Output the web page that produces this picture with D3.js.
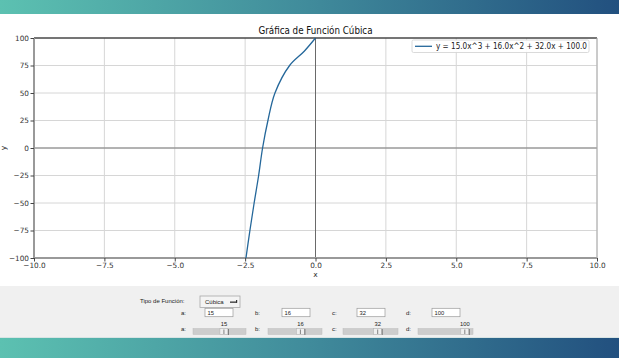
<!DOCTYPE html>
<html>
<head>
<meta charset="utf-8">
<script src="https://cdn.jsdelivr.net/npm/d3@7"></script>
<style>
  html, body { margin: 0; padding: 0; background: #ffffff; }
  svg { display: block; }
</style>
</head>
<body>
<script>
// ---- data ----
const xTicks = [-10, -7.5, -5, -2.5, 0, 2.5, 5, 7.5, 10];
const yTicks = [-100, -75, -50, -25, 0, 25, 50, 75, 100];
const curveX = [-2.47, -2.33, -2.18, -2.02, -1.88, -1.69, -1.44, -0.92, -0.40, 0];
const curveY = [-100, -75, -50, -25, 0, 25, 50, 75, 88, 100];
const titleText = "Gráfica de Función Cúbica";
const legendText = "y = 15.0x^3 + 16.0x^2 + 32.0x + 100.0";
const paramNames = ["a", "b", "c", "d"];
const paramValues = [15, 16, 32, 100];
const sliderMin = [-20, -20, -50, -100];
const sliderMax = [40, 40, 80, 135];
const functionType = "Cúbica";

(function () {
const W = 619, H = 358;
const svg = d3.select("body").append("svg").attr("width", W).attr("height", H);

const defs = svg.append("defs");
const grad = defs.append("linearGradient").attr("id", "band").attr("x1", "0").attr("x2", "1").attr("y1", "0").attr("y2", "0");
grad.append("stop").attr("offset", "0").attr("stop-color", "#5cc1b1");
grad.append("stop").attr("offset", "0.5").attr("stop-color", "#408b9b");
grad.append("stop").attr("offset", "1").attr("stop-color", "#22507f");

svg.append("rect").attr("x", 0).attr("y", 0).attr("width", W).attr("height", H).attr("fill", "#ffffff");
svg.append("rect").attr("x", 0).attr("y", 286).attr("width", W).attr("height", 52).attr("fill", "#f0f0f0");
svg.append("rect").attr("x", 0).attr("y", 0).attr("width", W).attr("height", 14).attr("fill", "url(#band)");
svg.append("rect").attr("x", 0).attr("y", 338).attr("width", W).attr("height", 20).attr("fill", "url(#band)");
svg.append("rect").attr("x", 0).attr("y", 337).attr("width", W).attr("height", 1).attr("fill", "#d8e4e4");

const pL = 34, pR = 597, pT = 38, pB = 258;
const x = d3.scaleLinear().domain([-10, 10]).range([pL, pR]);
const y = d3.scaleLinear().domain([-100, 100]).range([pB, pT]);

const font = "DejaVu Sans, sans-serif";

const g = svg.append("g");
g.selectAll(".gx").data(xTicks).join("line")
  .attr("x1", d => x(d)).attr("x2", d => x(d)).attr("y1", pT).attr("y2", pB)
  .attr("stroke", "#d6d6d6").attr("stroke-width", 1);
g.selectAll(".gy").data(yTicks).join("line")
  .attr("x1", pL).attr("x2", pR).attr("y1", d => y(d)).attr("y2", d => y(d))
  .attr("stroke", "#d6d6d6").attr("stroke-width", 1);

g.append("line").attr("x1", pL).attr("x2", pR).attr("y1", y(0)).attr("y2", y(0))
  .attr("stroke", "#7a7a7a").attr("stroke-width", 1);
g.append("line").attr("x1", x(0)).attr("x2", x(0)).attr("y1", pT).attr("y2", pB)
  .attr("stroke", "#6a6a6a").attr("stroke-width", 1);

g.append("line").attr("x1", pL).attr("x2", pR).attr("y1", pT).attr("y2", pT).attr("stroke", "#000").attr("stroke-width", 1);
g.append("line").attr("x1", pL).attr("x2", pL).attr("y1", pT).attr("y2", pB).attr("stroke", "#999").attr("stroke-width", 2);
g.append("line").attr("x1", pL).attr("x2", pR).attr("y1", pB).attr("y2", pB).attr("stroke", "#999").attr("stroke-width", 2);
g.append("line").attr("x1", pR).attr("x2", pR).attr("y1", pT).attr("y2", pB).attr("stroke", "#aaa").attr("stroke-width", 1);

const xAxis = d3.axisBottom(x).tickValues(xTicks).tickSize(3.5).tickPadding(1.5)
  .tickFormat(d => d3.format(".1f")(d).replace("-", "\u2212"));
const xa = svg.append("g").attr("transform", `translate(0,${pB})`).call(xAxis);
xa.select(".domain").remove();
xa.selectAll("text").attr("font-family", font).attr("font-size", 7.3).attr("fill", "#333");
xa.selectAll("line").attr("stroke", "#444");

const yAxis = d3.axisLeft(y).tickValues(yTicks).tickSize(3.5).tickPadding(1.5)
  .tickFormat(d => String(d).replace("-", "\u2212"));
const ya = svg.append("g").attr("transform", `translate(${pL},0)`).call(yAxis);
ya.select(".domain").remove();
ya.selectAll("text").attr("font-family", font).attr("font-size", 7.3).attr("fill", "#333");
ya.selectAll("line").attr("stroke", "#444");

svg.append("text").attr("x", x(0)).attr("y", 277).attr("text-anchor", "middle")
  .attr("font-family", font).attr("font-size", 7.5).attr("fill", "#333").text("x");
svg.append("text").attr("transform", `translate(6,${y(0)}) rotate(-90)`).attr("text-anchor", "middle")
  .attr("font-family", font).attr("font-size", 7.5).attr("fill", "#333").text("y");

svg.append("text").attr("x", 315.5).attr("y", 34).attr("text-anchor", "middle")
  .attr("font-family", font).attr("font-size", 10.5).attr("fill", "#111")
  .attr("textLength", 114).attr("lengthAdjust", "spacingAndGlyphs").text(titleText);

const pts = curveX.map((d, i) => [d, curveY[i]]);
svg.append("path").datum(pts)
  .attr("d", d3.line().x(d => x(d[0])).y(d => y(d[1])).curve(d3.curveCatmullRom.alpha(0.5)))
  .attr("fill", "none").attr("stroke", "#24679a").attr("stroke-width", 1.3);

const lg = svg.append("g");
lg.append("rect").attr("x", 412).attr("y", 40).attr("width", 177).attr("height", 12.5).attr("rx", 1.5)
  .attr("fill", "#fff").attr("fill-opacity", 0.9).attr("stroke", "#d0d0d0").attr("stroke-width", 0.8);
lg.append("line").attr("x1", 415).attr("x2", 432).attr("y1", 46.3).attr("y2", 46.3)
  .attr("stroke", "#24679a").attr("stroke-width", 1.3);
lg.append("text").attr("x", 436).attr("y", 49.3).attr("font-family", font).attr("font-size", 8.3).attr("fill", "#222")
  .attr("textLength", 151).attr("lengthAdjust", "spacingAndGlyphs").text(legendText);

const pf = "Liberation Sans, Arial, sans-serif";
const panel = svg.append("g");
panel.append("text").attr("x", 140).attr("y", 303).attr("font-family", pf).attr("font-size", 6).attr("fill", "#222").text("Tipo de Función:");
panel.append("rect").attr("x", 200).attr("y", 296).attr("width", 40).attr("height", 11.5)
  .attr("fill", "#f4f4f4").attr("stroke", "#a8a8a8").attr("stroke-width", 0.8);
panel.append("text").attr("x", 205).attr("y", 303.5).attr("font-family", pf).attr("font-size", 6).attr("fill", "#222").text(functionType);
panel.append("rect").attr("x", 230).attr("y", 301.5).attr("width", 7).attr("height", 1.3).attr("fill", "#333");
panel.append("rect").attr("x", 236).attr("y", 300).attr("width", 1.2).attr("height", 2.8).attr("fill", "#333");

const labelX = [181, 255, 332, 406];
const entryX = [205, 282, 357, 432];
const sliderX = [193, 268, 343, 418];
const sliderW = [53, 54, 55, 55];

paramNames.forEach((p, i) => {
  panel.append("text").attr("x", labelX[i]).attr("y", 315).attr("font-family", pf).attr("font-size", 6).attr("fill", "#222").text(p + ":");
  panel.append("rect").attr("x", entryX[i]).attr("y", 308.3).attr("width", 28).attr("height", 8.4)
    .attr("fill", "#fff").attr("stroke", "#9a9a9a").attr("stroke-width", 0.7);
  panel.append("text").attr("x", entryX[i] + 2.5).attr("y", 314.8).attr("font-family", pf).attr("font-size", 5.8).attr("fill", "#222").text(paramValues[i]);

  panel.append("text").attr("x", labelX[i]).attr("y", 331).attr("font-family", pf).attr("font-size", 6).attr("fill", "#222").text(p + ":");
  const s = d3.scaleLinear().domain([sliderMin[i], sliderMax[i]]).range([sliderX[i], sliderX[i] + sliderW[i]]);
  const hx = s(paramValues[i]);
  panel.append("rect").attr("x", sliderX[i]).attr("y", 328.5).attr("width", sliderW[i]).attr("height", 6)
    .attr("fill", "#cdcdcd").attr("stroke", "#bdbdbd").attr("stroke-width", 0.5);
  panel.append("rect").attr("x", hx - 4).attr("y", 328.5).attr("width", 8).attr("height", 6)
    .attr("fill", "#efefef").attr("stroke", "#b0b0b0").attr("stroke-width", 0.5);
  panel.append("line").attr("x1", hx).attr("x2", hx).attr("y1", 329.5).attr("y2", 334).attr("stroke", "#555").attr("stroke-width", 0.7);
  panel.append("line").attr("x1", hx + 4.5).attr("x2", hx + 4.5).attr("y1", 329).attr("y2", 335).attr("stroke", "#555").attr("stroke-width", 0.7);
  panel.append("text").attr("x", hx).attr("y", 326).attr("text-anchor", "middle").attr("font-family", pf).attr("font-size", 5.8).attr("fill", "#222").text(paramValues[i]);
});
})();
</script>
</body>
</html>
